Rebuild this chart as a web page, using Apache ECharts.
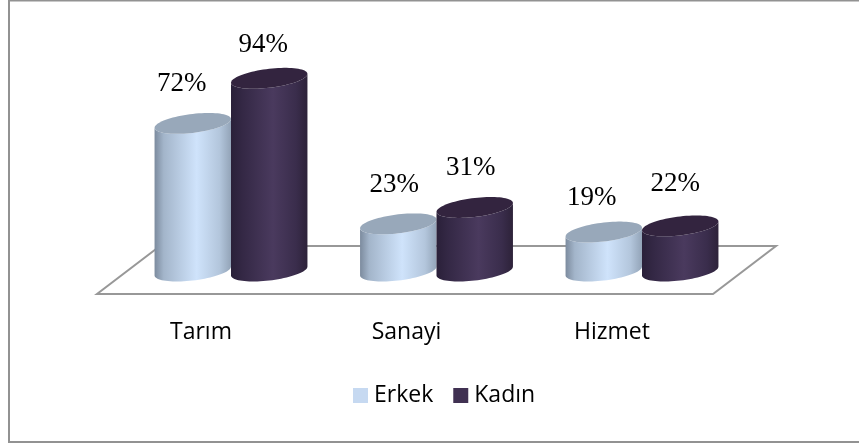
<!DOCTYPE html>
<html>
<head>
<meta charset="utf-8">
<style>
  html, body { margin: 0; padding: 0; background: #fff; }
  #chart { width: 859px; height: 443px; }
</style>
<script src="https://cdn.jsdelivr.net/npm/echarts@6/dist/echarts.min.js"></script>
</head>
<body>
<div id="chart"></div>
<script>
// ========= data =========
const categories = ["Tarım", "Sanayi", "Hizmet"];
const erkek = [72, 23, 19];
const kadin = [94, 31, 22];

// ========= cylinder =========
const SKEW = 0.115;

// sheared rather than rotated, so the ends meet the vertical sides cleanly
function ellipsePoint(cx, cy, rx, ry, t) {
    const x = rx * Math.cos(t);
    return [cx + x, cy + ry * Math.sin(t) - SKEW * x];
}

// labels were placed by hand in the original, so each one gets its own nudge
function cylinder(side, colors, topColor, nudge) {
    return function (params, api) {
        const base = api.coord([api.value(0), 0]);
        const top = api.coord([api.value(0), api.value(1)]);
        const band = api.size([1, 0])[0];
        const rx = band * 0.186;
        const ry = 9.5;
        const cx = base[0] + side * rx;

        const body = [], cap = [];
        for (let i = 0; i <= 40; i++) {
            body.push(ellipsePoint(cx, base[1], rx, ry, Math.PI - Math.PI * i / 40));
        }
        for (let i = 0; i <= 40; i++) {
            body.push(ellipsePoint(cx, top[1], rx, ry, Math.PI * i / 40));
        }
        for (let i = 0; i < 80; i++) {
            cap.push(ellipsePoint(cx, top[1], rx, ry, 2 * Math.PI * i / 80));
        }

        const [dx, dy] = nudge[params.dataIndex];
        return {
            type: "group",
            children: [{
                type: "polygon",
                shape: { points: body },
                style: {
                    fill: new echarts.graphic.LinearGradient(0, 0, 1, 0, colors)
                }
            }, {
                type: "polygon",
                shape: { points: cap },
                style: { fill: topColor }
            }, {
                type: "text",
                style: {
                    x: cx + dx,
                    y: top[1] + dy,
                    text: api.value(1) + "%",
                    fill: "#000",
                    font: '27px "Liberation Serif"',
                    align: "center",
                    verticalAlign: "middle"
                }
            }]
        };
    };
}

const erkekStops = [
    { offset: 0, color: "#7c8b9e" },
    { offset: 0.12, color: "#a3b5ca" },
    { offset: 0.55, color: "#cfe3fb" },
    { offset: 0.85, color: "#b3c6dc" },
    { offset: 1, color: "#93a4b8" }
];
const kadinStops = [
    { offset: 0, color: "#2a2039" },
    { offset: 0.15, color: "#342845" },
    { offset: 0.55, color: "#4a3a5e" },
    { offset: 0.85, color: "#3a2d4c" },
    { offset: 1, color: "#2d2239" }
];

const chart = echarts.init(document.getElementById("chart"));

chart.setOption({
    animation: false,
    backgroundColor: "#fff",
    grid: { left: 128.25, width: 616.5, top: 66, height: 205 },
    xAxis: {
        type: "category",
        data: categories,
        axisLine: { show: false },
        axisTick: { show: false },
        axisLabel: {
            margin: 50,
            padding: [0, 60, 0, 0],
            color: "#000",
            fontFamily: "Open Sans",
            fontSize: 23
        }
    },
    yAxis: { type: "value", min: 0, max: 100, show: false },
    legend: {
        left: 348,
        top: 379,
        icon: "rect",
        itemWidth: 15,
        itemHeight: 15,
        itemGap: 20,
        data: ["Erkek", "Kadın"],
        textStyle: { color: "#000", fontFamily: "Open Sans", fontSize: 23, padding: [6, 0, 0, 1] }
    },
    graphic: [{
        type: "rect",
        z: -10,
        shape: { x: 9, y: 0.5, width: 860, height: 441.5 },
        style: { fill: "#fff", stroke: "#929292", lineWidth: 2 }
    }, {
        type: "polygon",
        z: -9,
        shape: { points: [[97, 294], [713, 294], [776, 246], [160, 246]] },
        style: { fill: "none", stroke: "#989898", lineWidth: 2 }
    }],
    series: [{
        name: "Erkek",
        type: "custom",
        z: 2,
        itemStyle: { color: "#c6d9f1" },
        encode: { x: 0, y: 1 },
        data: erkek.map((v, i) => [i, v]),
        renderItem: cylinder(-1, erkekStops, "#98a8ba", [[-11, -39], [-4, -39], [-12, -34]])
    }, {
        name: "Kadın",
        type: "custom",
        z: 3,
        itemStyle: { color: "#403152" },
        encode: { x: 0, y: 1 },
        data: kadin.map((v, i) => [i, v]),
        renderItem: cylinder(1, kadinStops, "#33243f", [[-6, -33], [-4, -40], [-5, -42]])
    }]
});
</script>
</body>
</html>
